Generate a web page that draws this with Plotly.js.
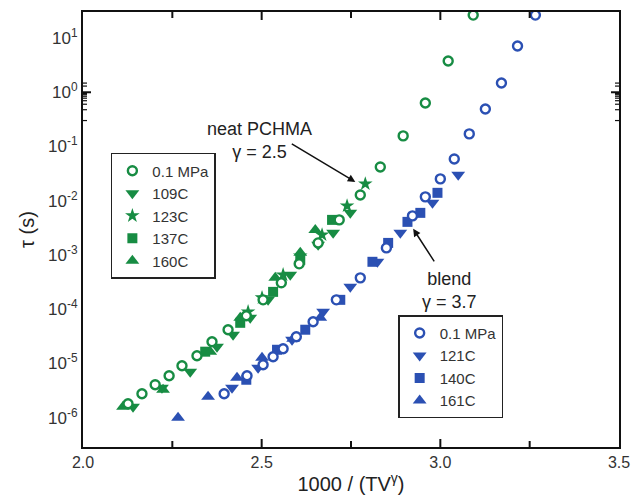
<!DOCTYPE html>
<html>
<head>
<meta charset="utf-8">
<script src="https://cdn.plot.ly/plotly-3.0.1.min.js"></script>
<style>html,body{margin:0;padding:0;background:#fff;}#chart{width:633px;height:495px;}</style>
</head>
<body>
<div id="chart"></div>
<script>
// ---- Neat PCHMA (green) ----
var neatCircleX = [2.126,2.165,2.202,2.241,2.277,2.319,2.361,2.406,2.457,2.504,2.555,2.605,2.658,2.717,2.776,2.832,2.896,2.958,3.022,3.092];
var neatCircleY = [1.81e-6,2.77e-6,4.06e-6,5.94e-6,9.08e-6,1.39e-5,2.51e-5,4.19e-5,7.58e-5,1.49e-4,3.07e-4,6.87e-4,1.67e-3,4.44e-3,1.28e-2,4.2e-2,0.157,0.635,3.77,26.5];
var neat109X = [2.140,2.221,2.300,2.375,2.420,2.468,2.518,2.580,2.658,2.700,2.748];
var neat109Y = [1.60e-6,3.57e-6,7.05e-6,2.03e-5,3.38e-5,6.97e-5,1.49e-4,4.31e-4,1.54e-3,2.56e-3,5.98e-3];
var neat123X = [2.462,2.501,2.560,2.608,2.669,2.739,2.790];
var neat123Y = [8.97e-5,1.63e-4,4.31e-4,9.66e-4,2.35e-3,8.05e-3,2.05e-2];
var neat137X = [2.342,2.440,2.532,2.608,2.697];
var neat137Y = [1.65e-5,5.62e-5,2.09e-4,8.15e-4,4.44e-3];
var neat160X = [2.112,2.224,2.356,2.440,2.538,2.608,2.650];
var neat160Y = [1.60e-6,3.28e-6,1.65e-5,6.97e-5,3.79e-4,1.10e-3,2.90e-3];
// ---- Blend (blue) ----
var blendCircleX = [2.395,2.459,2.504,2.532,2.560,2.597,2.644,2.709,2.776,2.849,2.922,2.958,3.000,3.039,3.081,3.126,3.171,3.216,3.266];
var blendCircleY = [2.77e-6,5.94e-6,9.48e-6,1.33e-5,1.87e-5,3.11e-5,5.88e-5,1.49e-4,3.79e-4,1.35e-3,5.26e-3,1.18e-2,2.53e-2,5.9e-2,0.171,0.492,1.48,7.13,26.5];
var blend121X = [2.417,2.490,2.585,2.672,2.748,2.824,2.888,2.978,3.050];
var blend121Y = [3.57e-6,8.35e-6,2.74e-5,8.97e-5,2.59e-4,7.49e-4,2.56e-3,9.14e-3,3.0e-2];
var blend140X = [2.457,2.543,2.622,2.720,2.810,2.854,2.908,2.944,2.992];
var blend140Y = [5.01e-6,1.79e-5,4.19e-5,1.49e-4,7.49e-4,1.67e-3,4.08e-3,5.98e-3,1.40e-2];
var blend161X = [2.266,2.350,2.431,2.501,2.588,2.664];
var blend161Y = [1.0e-6,2.44e-6,5.46e-6,1.28e-5,2.86e-5,6.97e-5];

// ---- tick labels ----
var xTickVals = [2.0, 2.5, 3.0, 3.5];
var xTickText = ['2.0', '2.5', '3.0', '3.5'];
var yTickVals = [1e-6,1e-5,1e-4,1e-3,1e-2,1e-1,1,10];
var yTickText = ['10<sup>-6</sup>','10<sup>-5</sup>','10<sup>-4</sup>','10<sup>-3</sup>','10<sup>-2</sup>','10<sup>-1</sup>','10<sup>0</sup>','10<sup>1</sup>'];

// tick-mark positions (drawn on all four sides of the frame)
var xMajorTicks = [2.5, 3.0];
var xMinorTicks = [2.25, 2.75, 3.25];
var yMinorTicks = [];
for (var e = -7; e <= 1; e++) { for (var m = 2; m <= 9; m++) { yMinorTicks.push(m * Math.pow(10, e)); } }
var Y_MIN = -6.54, Y_MAX = 1.48;

var GREEN = '#178c43';
var BLUE = '#2b50b3';
var TICKC = '#111111';

function filled(x, y, name, sym, size, color, leg, rank) {
  return {x: x, y: y, name: name, type: 'scatter', mode: 'markers', legend: leg, legendrank: rank,
    marker: {symbol: sym, size: size, color: color, line: {width: 0}}};
}
function openC(x, y, name, color, leg) {
  return {x: x, y: y, name: name, type: 'scatter', mode: 'markers', legend: leg, legendrank: 1,
    marker: {symbol: 'circle', size: 9, color: '#ffffff', line: {width: 2.4, color: color}}};
}

var data = [
  filled(neat109X, neat109Y, '109C', 'triangle-down', 12, GREEN, 'legend', 2),
  filled(neat123X, neat123Y, '123C', 'star', 11, GREEN, 'legend', 3),
  filled(neat137X, neat137Y, '137C', 'square', 10, GREEN, 'legend', 4),
  filled(neat160X, neat160Y, '160C', 'triangle-up', 12, GREEN, 'legend', 5),
  openC(neatCircleX, neatCircleY, '0.1 MPa', GREEN, 'legend'),
  filled(blend121X, blend121Y, '121C', 'triangle-down', 12, BLUE, 'legend2', 2),
  filled(blend140X, blend140Y, '140C', 'square', 10, BLUE, 'legend2', 3),
  filled(blend161X, blend161Y, '161C', 'triangle-up', 12, BLUE, 'legend2', 4),
  openC(blendCircleX, blendCircleY, '0.1 MPa', BLUE, 'legend2')
];

// tick marks as pixel-length shapes anchored to axis values
var shapes = [];
function yTick(v, len, w) {
  var ly = Math.log10(v);
  if (ly < Y_MIN || ly > Y_MAX) return;
  shapes.push({type: 'line', xref: 'paper', yref: 'y', xsizemode: 'pixel', xanchor: 0,
    x0: 0, x1: len, y0: ly, y1: ly, line: {color: TICKC, width: w}, layer: 'above'});
  shapes.push({type: 'line', xref: 'paper', yref: 'y', xsizemode: 'pixel', xanchor: 1,
    x0: 0, x1: -len, y0: ly, y1: ly, line: {color: TICKC, width: w}, layer: 'above'});
}
function xTick(v, len, w) {
  shapes.push({type: 'line', xref: 'x', yref: 'paper', ysizemode: 'pixel', yanchor: 0,
    y0: 0, y1: len, x0: v, x1: v, line: {color: TICKC, width: w}, layer: 'above'});
  shapes.push({type: 'line', xref: 'x', yref: 'paper', ysizemode: 'pixel', yanchor: 1,
    y0: 0, y1: -len, x0: v, x1: v, line: {color: TICKC, width: w}, layer: 'above'});
}
yTickVals.forEach(function (v) { yTick(v, 8, 2); });
yMinorTicks.forEach(function (v) { yTick(v, 4, 1.2); });
xMajorTicks.forEach(function (v) { xTick(v, 8, 2); });
xMinorTicks.forEach(function (v) { xTick(v, 6, 2); });

var FONT = 'Liberation Sans, Arial, Helvetica, sans-serif';
var legStyle = {bgcolor: 'rgba(255,255,255,0)', bordercolor: '#222', borderwidth: 1.5,
  font: {family: FONT, size: 15, color: '#333'}, xanchor: 'left', yanchor: 'top',
  traceorder: 'normal', itemwidth: 30, tracegroupgap: 0};

var layout = {
  width: 633, height: 495,
  margin: {l: 83, r: 14, t: 12, b: 48},
  paper_bgcolor: '#fff', plot_bgcolor: '#fff',
  showlegend: true,
  legend: Object.assign({x: 0.052, y: 0.676}, legStyle),
  legend2: Object.assign({x: 0.588, y: 0.303}, legStyle),
  xaxis: {
    range: [2.0, 3.5], tickmode: 'array', tickvals: xTickVals, ticktext: xTickText,
    ticks: '', showline: true, linewidth: 2, linecolor: '#111', mirror: true,
    showgrid: false, zeroline: false,
    tickfont: {family: FONT, size: 16, color: '#333'},
    title: {text: '1000 / (TV<sup>γ</sup>)', font: {family: FONT, size: 20, color: '#222'}, standoff: 8}
  },
  yaxis: {
    type: 'log', range: [Y_MIN, Y_MAX], tickmode: 'array', tickvals: yTickVals, ticktext: yTickText,
    ticks: '', showline: true, linewidth: 2, linecolor: '#111', mirror: true,
    showgrid: false, zeroline: false,
    tickfont: {family: FONT, size: 17, color: '#333'},
    title: {text: 'τ (s)', font: {family: FONT, size: 20, color: '#222'}, standoff: 8}
  },
  shapes: shapes,
  annotations: [
    {x: 2.493, y: -0.897, xref: 'x', yref: 'y', text: 'neat PCHMA<br>γ = 2.5', showarrow: false,
      font: {family: FONT, size: 18, color: '#222'}, align: 'center'},
    {x: 2.762, y: -1.652, xref: 'x', yref: 'y', text: '', showarrow: true, ax: -65, ay: -39,
      arrowhead: 2, arrowsize: 1, arrowwidth: 1.5, arrowcolor: '#111', standoff: 0, startstandoff: 0},
    {x: 3.025, y: -3.66, xref: 'x', yref: 'y', text: 'blend<br>γ = 3.7', showarrow: false,
      font: {family: FONT, size: 18, color: '#222'}, align: 'center'},
    {x: 2.924, y: -2.518, xref: 'x', yref: 'y', text: '', showarrow: true, ax: 22, ay: 34,
      arrowhead: 2, arrowsize: 1, arrowwidth: 1.5, arrowcolor: '#111', standoff: 0, startstandoff: 0}
  ]
};

Plotly.newPlot('chart', data, layout, {displayModeBar: false, staticPlot: true});
</script>
</body>
</html>
